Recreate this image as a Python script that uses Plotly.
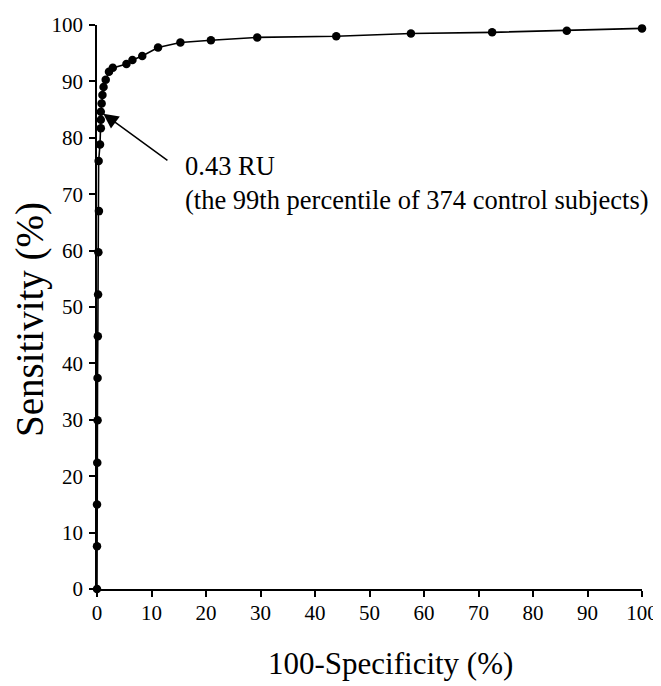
import plotly.graph_objects as go

# 100 - specificity (%) and sensitivity (%)
fpr = [0.0, 0.0, 0.0, 0.05, 0.1, 0.1, 0.15, 0.2, 0.25, 0.35,
       0.3, 0.55, 0.7, 0.7, 0.7, 0.85, 1.0, 1.2, 1.6, 2.2,
       2.9, 5.4, 6.5, 8.3, 11.2, 15.3, 20.9, 29.4, 43.9, 57.6,
       72.5, 86.2, 100.0]
sens = [0.0, 7.6, 15.0, 22.4, 29.9, 37.4, 44.8, 52.2, 59.7, 67.0,
        75.9, 78.8, 81.7, 83.2, 84.6, 86.1, 87.6, 89.0, 90.3, 91.7,
        92.4, 93.1, 93.8, 94.5, 96.0, 96.9, 97.3, 97.8, 98.0, 98.5,
        98.7, 99.0, 99.4]

x_ticks = [0, 10, 20, 30, 40, 50, 60, 70, 80, 90, 100]
y_ticks = [0, 10, 20, 30, 40, 50, 60, 70, 80, 90, 100]

cutoff_x = 0.7
cutoff_y = 84.6
cutoff_text = "0.43 RU<br>(the 99th percentile of 374 control subjects)"

FONT = "Liberation Serif"

# page offset from the default body margin of the html page
OFF = 8
L, T = 89, 17
PW, PH = 545, 564
W, H = 661 - OFF, 686 - OFF

fig = go.Figure()
fig.add_trace(go.Scatter(
    x=fpr, y=sens, mode="lines+markers",
    line=dict(color="black", width=1.6),
    marker=dict(color="black", size=8.5),
    cliponaxis=False, showlegend=False,
))

axis_common = dict(
    showgrid=False, zeroline=False, showline=True, linecolor="black",
    linewidth=1.5, ticks="outside", ticklen=6, tickwidth=1.5,
    tickcolor="black", tickfont=dict(family=FONT, size=21, color="black"),
)


def px_to_paper(px, py):
    return (px - OFF - L) / PW, (OFF + T + PH - py) / PH


xt = px_to_paper(390, 663)
yt = px_to_paper(30, 320)

fig.update_layout(
    width=W, height=H,
    margin=dict(l=L, r=W - L - PW, t=T, b=H - T - PH, autoexpand=False),
    paper_bgcolor="white", plot_bgcolor="white",
    xaxis=dict(range=[0, 100], tickvals=x_ticks, ticklabelstandoff=-2,
               **axis_common),
    yaxis=dict(range=[0, 100], tickvals=y_ticks, ticklabelstandoff=2,
               **axis_common),
    annotations=[
        dict(x=cutoff_x, y=cutoff_y, xref="x", yref="y",
             ax=13.2, ay=75.8, axref="x", ayref="y",
             text="", showarrow=True, arrowhead=2, arrowsize=2,
             arrowwidth=1.5, arrowcolor="black", standoff=3),
        dict(x=15.8, y=78.0, xref="x", yref="y", xanchor="left",
             yanchor="top", align="left", showarrow=False,
             text=cutoff_text,
             font=dict(family=FONT, size=26.5, color="black")),
        dict(x=xt[0], y=xt[1], xref="paper", yref="paper",
             xanchor="center", yanchor="middle",
             text="100-Specificity (%)", showarrow=False,
             font=dict(family=FONT, size=31, color="black")),
        dict(x=yt[0], y=yt[1], xref="paper", yref="paper",
             xanchor="center", yanchor="middle",
             text="Sensitivity (%)", showarrow=False, textangle=-90,
             font=dict(family=FONT, size=39, color="black")),
    ],
)

fig.write_html("out.html")
